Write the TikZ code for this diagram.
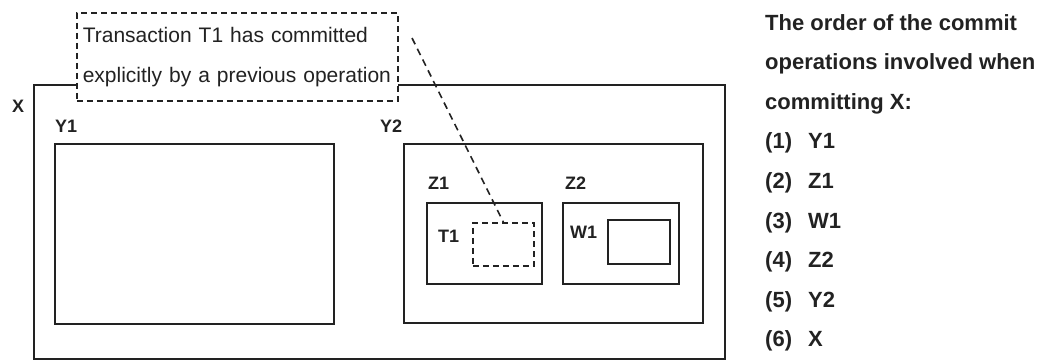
\documentclass[tikz,border=0pt]{standalone}
\usepackage{fontspec}
\setmainfont{Liberation Sans}
\usepackage{xcolor}
\usetikzlibrary{positioning, calc}
\definecolor{inkgray}{HTML}{222222}

\tikzset{
  box/.style={draw=inkgray, line width=1.6pt, anchor=north west, inner sep=0pt},
  dashbox/.style={box, dash pattern=on 6pt off 4pt},
  lbl/.style={font=\fontsize{18}{18}\selectfont\bfseries, text=inkgray, inner sep=0pt, anchor=base west},
  note/.style={font=\fontsize{21}{40}\selectfont, text=inkgray, align=left},
  order/.style={font=\fontsize{22}{39.6}\selectfont\bfseries, text=inkgray, inner sep=0pt, anchor=base west, align=left},
}

\begin{document}
\begin{tikzpicture}[x=1pt, y=1pt]
  \useasboundingbox (0,0) rectangle (1048,-360);

  % nested transactions
  \node[box, minimum width=691pt, minimum height=274pt] (X) at (33,-84) {};
  \node[box, minimum width=279pt, minimum height=180pt] (Y1) at (54,-143) {};
  \node[box, minimum width=299pt, minimum height=179pt] (Y2) at (403,-143) {};
  \node[box, minimum width=115pt, minimum height=81pt] (Z1) at (426,-202) {};
  \node[box, minimum width=116pt, minimum height=81pt] (Z2) at (562,-202) {};
  \node[dashbox, minimum width=61pt, minimum height=43pt] (T1) at (472,-222) {};
  \node[box, minimum width=62pt, minimum height=44pt] (W1) at (607,-219) {};

  \node[lbl] (Xlbl) at ($(X.north west)+(-21,-28)$) {X};
  \node[lbl] (Y1lbl) at ($(Y1.north west)+(1,11)$) {Y1};
  \node[lbl] (Y2lbl) at ($(Y2.north west)+(-23,11)$) {Y2};
  \node[lbl] (Z1lbl) at ($(Z1.north west)+(2,13)$) {Z1};
  \node[lbl] (Z2lbl) at ($(Z2.north west)+(3,13)$) {Z2};
  \node[lbl] (T1lbl) at ($(Z1.north west)+(12,-40)$) {T1};
  \node[lbl] (W1lbl) at ($(Z2.north west)+(8,-36)$) {W1};

  % callout
  \node[dashbox, fill=white, minimum width=321pt, minimum height=88pt,
        text width=309pt, inner xsep=6pt, note] (callout) at (76,-12)
    {Transaction T1 has committed\\explicitly by a previous operation};
  \coordinate (calltip) at (412,-38);
  \draw[inkgray, line width=1.6pt, dash pattern=on 7pt off 5pt] (calltip) -- (T1.north);

  % commit order (base anchor = last line)
  \node[order] (title) at (765,-109.2)
    {The order of the commit\\operations involved when\\committing X:};
  \foreach \name [count=\k] in {Y1, Z1, W1, Z2, Y2, X}
    \node[order] (ord\k) at (765,{-30-39.6*(\k+2)}) {\makebox[43pt][l]{(\k)}\name};
\end{tikzpicture}
\end{document}
